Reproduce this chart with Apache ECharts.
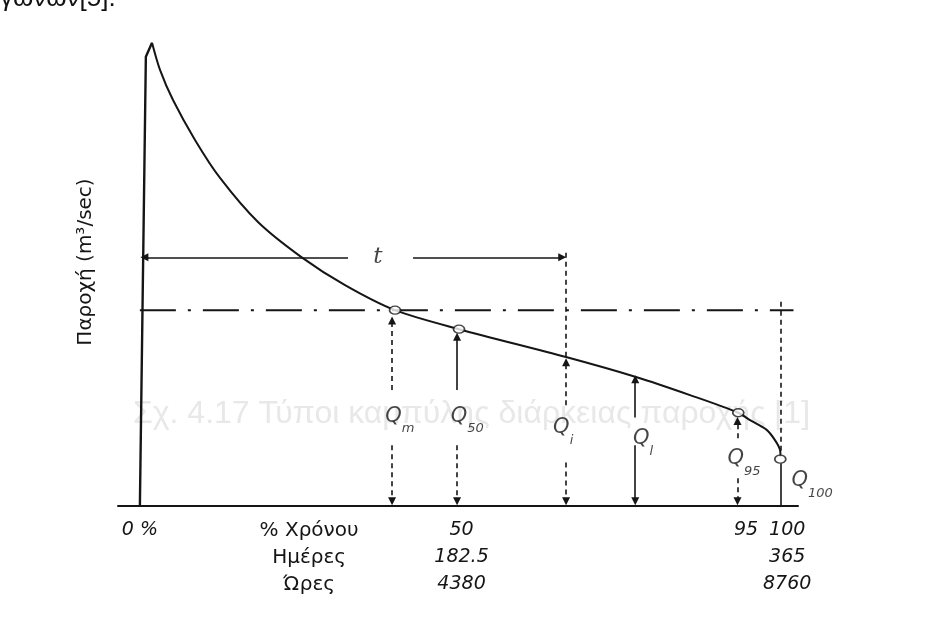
<!DOCTYPE html>
<html>
<head>
<meta charset="utf-8">
<script src="https://cdn.jsdelivr.net/npm/echarts@6/dist/echarts.min.js"></script>
<style>
  html, body { margin: 0; padding: 0; background: #fff; }
  #chart { width: 925px; height: 626px; }
</style>
</head>
<body>
<div id="chart"></div>
<script>
// % of time (x) against flow (y, arbitrary 0-100 scale)
var riseLine = [[0, 0], [0.93, 96.8], [1.89, 99.85]];
var durationCurve = [[1.89, 99.85], [3.13, 94.0], [5.15, 87.5], [8.57, 78.9], [12.46, 70.7],
    [18.36, 61.2], [25.05, 53.7], [31.89, 47.6], [39.66, 42.2], [49.61, 38.1], [66.24, 32.1],
    [77.12, 27.8], [85.51, 23.9], [93.02, 20.1], [94.84, 18.5], [97.43, 16.4], [98.72, 14.2],
    [99.5, 12.1], [99.58, 10.6]];
var circlePoints = [[39.66, 42.2], [49.61, 38.1], [93.02, 20.1], [99.55, 10.1]];

var meanLevel = 42.2;   // Qm dash-dot line
var tLevel = 53.6;      // t arrow line
var tGap = [32.35, 42.46];
var qiX = 66.25;

// arrows: column, upper arrow from/to, lower arrow from
var arrowCols = [39.2, 49.3, 66.25, 77.0, 92.9];
var upFrom = [25.0, 25.0, 21.7, 19.1, 14.6];
var upTo = [40.0, 36.5, 31.0, 27.3, 18.3];
var downFrom = [13.1, 13.1, 9.4, 13.1, 6.0];
var upDashed = [true, false, true, false, true];
var downDashed = [true, true, true, false, true];

var qLabelX = [40.4, 50.9, 65.8, 78.2, 93.9, 104.5];
var qLabelY = [18.4, 18.4, 15.9, 13.5, 9.3, 4.5];
var qSubs = ['m', '50', 'i', 'l', '95', '100'];

// bottom tick rows
var percentTicks = [0, 50, 100];
var percentRow = ['0 %', '50', '100'];
var q95Tick = 95;
var q95Label = '95';
var lowerTicks = [50, 100];
var daysRow = ['182.5', '365'];
var hoursRow = ['4380', '8760'];
var rowTitles = ['% Χρόνου', 'Ημέρες', 'Ώρες'];
var rowTitlePos = 26.3;

var ink = '#151515';

function seg(x1, y1, x2, y2) { return { coords: [[x1, y1], [x2, y2]] }; }

var dashedArrows = [], solidArrows = [];
for (var i = 0; i < arrowCols.length; i++) {
    var x = arrowCols[i];
    (upDashed[i] ? dashedArrows : solidArrows).push(seg(x, upFrom[i], x, upTo[i]));
    (downDashed[i] ? dashedArrows : solidArrows).push(seg(x, downFrom[i], x, 1.0));
}
solidArrows.push(seg(tGap[0], tLevel, 0.7, tLevel));
solidArrows.push(seg(tGap[1], tLevel, qiX - 0.6, tLevel));

var dashedPlain = [seg(qiX, tLevel + 1, qiX, 32.1), seg(99.6, meanLevel + 1.8, 99.6, 11.8)];
var solidPlain = [seg(99.55, 9.2, 99.55, 0)];

var qLabels = [];
for (var j = 0; j < qSubs.length; j++) qLabels.push([qLabelX[j], qLabelY[j], qSubs[j]]);

function arrowSeries(data, type, withHead) {
    return {
        type: 'lines',
        coordinateSystem: 'cartesian2d',
        symbol: withHead ? ['none', 'triangle'] : ['none', 'none'],
        symbolSize: 8,
        lineStyle: { color: ink, width: 1.6, type: type, opacity: 1, curveness: 0 },
        itemStyle: { color: ink },
        silent: true,
        z: 4,
        data: data
    };
}

var numFont = { fontFamily: 'DejaVu Sans', fontStyle: 'italic', fontSize: 19, color: ink, lineHeight: 27 };
var labelRich = {
    t: { fontFamily: 'DejaVu Sans', fontSize: 20, color: ink, lineHeight: 27 },
    n: numFont,
    // the drawn 95 / 100 sit a little apart from each other
    l: Object.assign({ padding: [0, 10, 0, 0] }, numFont),
    r: Object.assign({ padding: [0, 0, 0, 8] }, numFont)
};

function bareAxis(offset, label) {
    return {
        type: 'value',
        position: 'bottom',
        offset: offset,
        min: -3.4,
        max: 102.3,
        axisLine: { show: false },
        axisTick: { show: false },
        splitLine: { show: false },
        axisLabel: label
    };
}

var option = {
    backgroundColor: '#fff',
    animation: false,
    grid: { left: 118, right: 127, top: 42, bottom: 120 },
    xAxis: [{
        type: 'value',
        min: -3.4,
        max: 102.3,
        axisLine: { lineStyle: { color: ink, width: 2 } },
        axisTick: { show: false },
        splitLine: { show: false },
        axisLabel: {
            customValues: [0, rowTitlePos, 50, 100],
            hideOverlap: false,
            margin: 11,
            formatter: function (v) {
                if (Math.abs(v - rowTitlePos) < 0.01) return '{t|' + rowTitles[0] + '}';
                var st = v === 100 ? 'r' : 'n';
                return '{' + st + '|' + percentRow[percentTicks.indexOf(v)] + '}';
            },
            rich: labelRich
        }
    }, bareAxis(27, {
        customValues: [rowTitlePos, 50, 100],
        hideOverlap: false,
        margin: 11,
        formatter: function (v) {
            if (Math.abs(v - rowTitlePos) < 0.01) return '{t|' + rowTitles[1] + '}\n{t|' + rowTitles[2] + '}';
            var k = lowerTicks.indexOf(v);
            var st = v === 100 ? 'r' : 'n';
            return '{' + st + '|' + daysRow[k] + '}\n{' + st + '|' + hoursRow[k] + '}';
        },
        rich: labelRich
    }), bareAxis(0, {
        customValues: [q95Tick],
        margin: 11,
        formatter: function () { return '{l|' + q95Label + '}'; },
        rich: labelRich
    })],
    yAxis: {
        type: 'value',
        min: 0,
        max: 100,
        axisLine: { show: false },
        axisTick: { show: false },
        axisLabel: { show: false },
        splitLine: { show: false },
        name: 'Παροχή (m³/sec)',
        nameLocation: 'middle',
        nameRotate: 90,
        nameGap: 22,
        nameTextStyle: { fontFamily: 'DejaVu Sans', fontSize: 20, color: ink, padding: [0, 0, 0, 24] }
    },
    graphic: [
        {
            type: 'text', left: 0, top: -14, z: 0,
            style: { text: 'γωνων[5].', font: '26px "Liberation Sans Narrow", "Liberation Sans", sans-serif', fill: '#111' }
        },
        {
            type: 'text', left: 133, top: 398, z: -1, silent: true,
            style: { text: 'Σχ. 4.17 Τύποι καμπύλης διάρκειας παροχής [1]', font: '32px "Liberation Sans", sans-serif', fill: '#e8e8e8' }
        }
    ],
    series: [
        {
            type: 'line', data: riseLine, showSymbol: false, z: 3,
            lineStyle: { color: ink, width: 2.4 }
        },
        {
            type: 'line', data: durationCurve, showSymbol: false, smooth: 0.3, z: 3,
            lineStyle: { color: ink, width: 2 }
        },
        {
            type: 'line', data: [[0, meanLevel], [101.6, meanLevel]], showSymbol: false, z: 2,
            lineStyle: { color: ink, width: 2, type: [36, 12, 3, 12] }
        },
        arrowSeries(dashedArrows, [5, 4], true),
        arrowSeries(solidArrows, 'solid', true),
        arrowSeries(dashedPlain, [5, 4], false),
        arrowSeries(solidPlain, 'solid', false),
        {
            type: 'scatter', data: circlePoints, z: 5,
            symbol: 'circle', symbolSize: [11, 8],
            itemStyle: { color: '#fff', borderColor: ink, borderWidth: 1.5 }
        },
        {
            type: 'scatter', data: qLabels, z: 6, clip: false, silent: true,
            symbolSize: 1, itemStyle: { color: 'transparent' },
            label: {
                show: true, position: 'inside',
                formatter: function (p) { return '{q|Q}{s|' + p.value[2] + '}'; },
                rich: {
                    q: { fontFamily: 'DejaVu Sans', fontStyle: 'italic', fontSize: 21, color: ink, lineHeight: 30, verticalAlign: 'top' },
                    s: { fontFamily: 'DejaVu Sans', fontStyle: 'italic', fontSize: 13, color: ink, lineHeight: 30, verticalAlign: 'bottom' }
                }
            }
        },
        {
            type: 'scatter', data: [[37.0, tLevel]], z: 6, silent: true,
            symbolSize: 1, itemStyle: { color: 'transparent' },
            label: {
                show: true, position: 'inside', formatter: 't',
                fontFamily: 'DejaVu Serif', fontStyle: 'italic', fontSize: 23, color: ink
            }
        }
    ]
};

var myChart = echarts.init(document.getElementById('chart'));
myChart.setOption(option);
</script>
</body>
</html>
